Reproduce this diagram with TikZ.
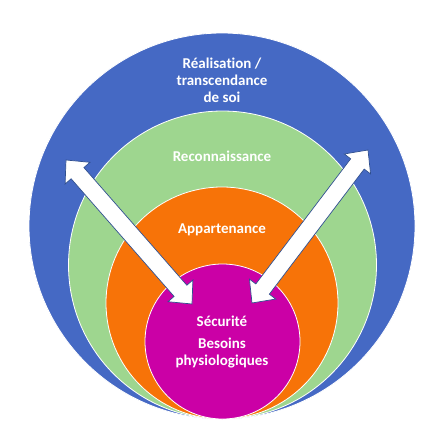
\documentclass[tikz,border=0pt]{standalone}
\usepackage{fontspec}
\setmainfont[RawFeature={-liga;-clig;-dlig}]{Carlito}
\usetikzlibrary{calc}
\definecolor{cblue}{HTML}{4569C4}
\definecolor{cgreen}{HTML}{9ED68F}
\definecolor{corange}{HTML}{F77308}
\definecolor{cmagenta}{HTML}{CB00A6}
\definecolor{arrline}{HTML}{2F4F8F}
\tikzset{
  ring/.style={circle, draw=white, line width=0.8pt, inner sep=0pt, minimum size=#1},
  lbl/.style={text=white, font=\fontsize{15}{17}\selectfont\bfseries, align=center, inner sep=0pt},
  blockarrow/.style={fill=white, draw=arrline, line width=0.7pt, line join=miter}
}
\newcommand{\dblarrow}[2]{%
  \path ($(#1)!17.5pt!(#2)$) coordinate (#1h) ($(#2)!17.5pt!(#1)$) coordinate (#2h);
  \draw[blockarrow] (#1) -- ($(#1h)!16.5pt!90:(#2)$) -- ($(#1h)!8.5pt!90:(#2)$)
    -- ($(#2h)!8.5pt!-90:(#1)$) -- ($(#2h)!16.5pt!-90:(#1)$) -- (#2)
    -- ($(#2h)!16.5pt!90:(#1)$) -- ($(#2h)!8.5pt!90:(#1)$)
    -- ($(#1h)!8.5pt!-90:(#2)$) -- ($(#1h)!16.5pt!-90:(#2)$) -- cycle;}
\begin{document}
\begin{tikzpicture}[x=1pt,y=-1pt]
\path[use as bounding box, fill=white] (0,0) rectangle (447,447);
\node[ring=386pt, fill=cblue] (blue) at (222,226) {};
\node[ring=308pt, fill=cgreen] (green) at (222.5,265) {};
\node[ring=232pt, fill=corange] (orange) at (222,303) {};
\node[ring=155pt, fill=cmagenta] (mag) at (222.5,341.5) {};
\coordinate (LA) at (66,160);
\coordinate (LB) at (192,304);
\coordinate (RA) at (368,150);
\coordinate (RB) at (252,303);
\dblarrow{LA}{LB}
\dblarrow{RA}{RB}
\node[lbl] (t1) at (222,80) {Réalisat\kern0pt ion /\\transcendance\\de soi};
\node[lbl] (t2) at (222,156) {Reconnaissance};
\node[lbl] (t3) at (222,230) {Appartenance};
\node[lbl] (t4) at (222,321) {Sécurité};
\node[lbl] (t5) at (222,353.5) {Besoins\\physiologiques};
\end{tikzpicture}
\end{document}
